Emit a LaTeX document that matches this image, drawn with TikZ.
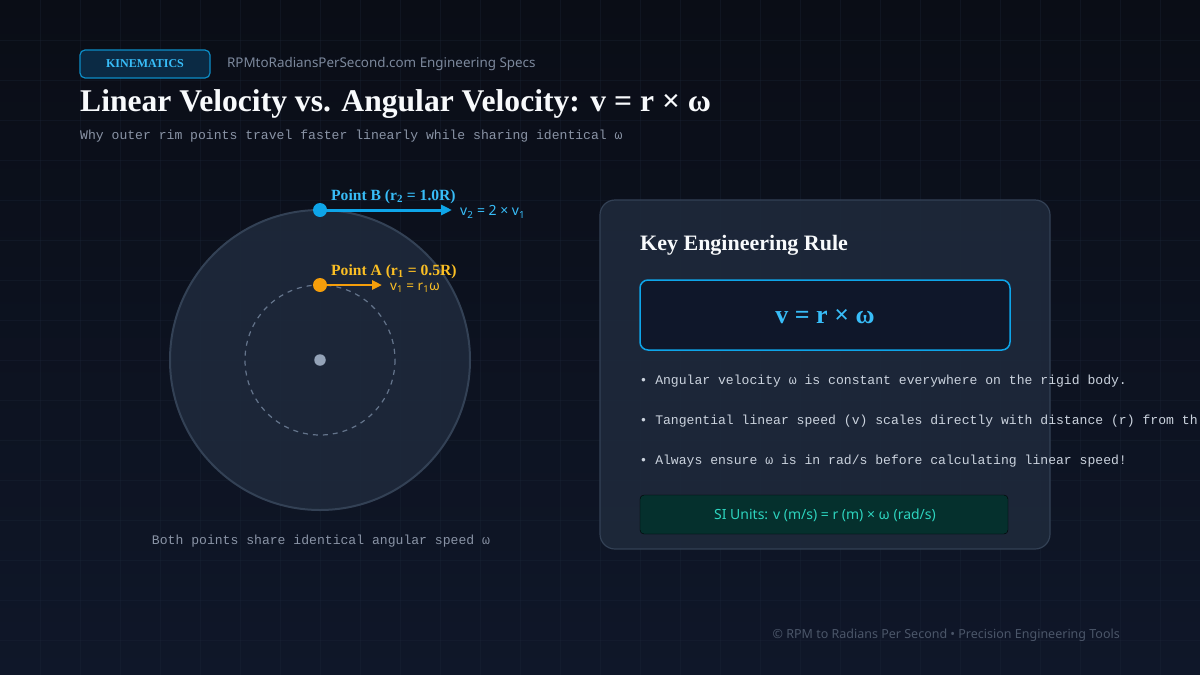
\documentclass[tikz,border=0pt]{standalone}
\usepackage{fontspec}
\setmainfont{Liberation Serif}
\setsansfont{Noto Sans}
\setmonofont{Liberation Mono}
\usetikzlibrary{arrows.meta,positioning,calc}

\definecolor{bgtop}{HTML}{0A0D16}
\definecolor{bgbot}{HTML}{0F1729}
\definecolor{gridc}{HTML}{1E293B}
\definecolor{skyb}{HTML}{0EA5E9}
\definecolor{skyl}{HTML}{38BDF8}
\definecolor{badgebg}{HTML}{0B2A44}
\definecolor{amber}{HTML}{F59E0B}
\definecolor{amberl}{HTML}{FBBF24}
\definecolor{slatepanel}{HTML}{1E293B}
\definecolor{slateedge}{HTML}{334155}
\definecolor{slatedash}{HTML}{64748B}
\definecolor{slatedot}{HTML}{94A3B8}
\definecolor{slatetext}{HTML}{CBD3DE}
\definecolor{subgray}{HTML}{8A94A6}
\definecolor{sitegray}{HTML}{7C889C}
\definecolor{footgray}{HTML}{4B5669}
\definecolor{formulabg}{HTML}{0F172A}
\definecolor{tealbg}{HTML}{05302D}
\definecolor{teall}{HTML}{2DD4BF}
\definecolor{titlewhite}{HTML}{F8FAFC}

\begin{document}
\begin{tikzpicture}[x=1pt,y=-1pt,
		gridline/.style={draw=gridc, line width=0.6pt, opacity=0.3},
		badge node/.style={rectangle, rounded corners=5pt, draw=skyb!85!black, line width=1.2pt, fill=badgebg, minimum width=130pt, minimum height=28pt, font=\bfseries\fontsize{12}{14}\selectfont, text=skyl},
		mono text/.style={font=\ttfamily\fontsize{13.1}{15}\selectfont},
		point node/.style={circle, inner sep=0pt, minimum size=14pt},
		vec line/.style={line width=3pt, -{Triangle[length=11pt, width=10pt]}, shorten <=-2pt},
		panel/.style={rounded corners=15pt, fill=slatepanel, fill opacity=0.9, draw=slateedge, line width=1.2pt},
		bullet node/.style={mono text, text=slatetext, anchor=west}]

	% background and grid
	\shade[top color=bgtop, bottom color=bgbot] (0,0) rectangle (1200,675);
	\useasboundingbox (0,0) rectangle (1200,675);
	\clip (0,0) rectangle (1200,675);
	\foreach \gx in {40,80,...,1160}
		\draw[gridline] (\gx,0) -- (\gx,675);
	\foreach \gy in {40,80,...,640}
		\draw[gridline] (0,\gy) -- (1200,\gy);

	% header
	\node[badge node] (badge) at (145,64) {KINEMATICS};
	\node[anchor=west, font=\sffamily\fontsize{13.4}{16}\selectfont, text=sitegray] (site) [right=13pt of badge] {RPMtoRadiansPerSecond.com Engineering Specs};
	\node[anchor=base west, inner sep=0pt, font=\bfseries\fontsize{31.6}{36}\selectfont, text=titlewhite] (title) at (80,111) {Linear Velocity vs. Angular Velocity: v = r × ω};
	\node[anchor=base west, inner sep=0pt, mono text, text=subgray] (subtitle) at (80,139) {Why outer rim points travel faster linearly while sharing identical ω};

	% wheel
	\draw[fill=slatepanel, fill opacity=0.9, draw=slateedge, line width=2pt] (320,360) circle (150);
	\draw[slatedash, line width=1.2pt, dash pattern=on 5pt off 5pt] (320,360) circle (75);
	\node[circle, fill=slatedot, inner sep=0pt, minimum size=11.5pt] (hub) at (320,360) {};

	\coordinate (tipB) at (452,210);
	\coordinate (tipA) at (382,285);
	\draw[vec line, skyb] (320,210) -- (tipB);
	\draw[vec line, amber, line width=2.5pt, -{Triangle[length=10pt, width=9pt]}] (320,285) -- (tipA);
	\node[point node, fill=skyb] (ptB) at (320,210) {};
	\node[point node, fill=amber] (ptA) at (320,285) {};

	\node[anchor=base west, inner sep=0pt, font=\bfseries\fontsize{15.6}{17}\selectfont, text=skyl] (labB) at (331,200) {Point B (r\textsubscript{2} = 1.0R)};
	\node[anchor=base west, inner sep=0pt, font=\bfseries\fontsize{15.6}{17}\selectfont, text=amberl] (labA) at (331,275) {Point A (r\textsubscript{1} = 0.5R)};
	\node[anchor=west, inner sep=0pt, font=\sffamily\fontsize{14}{16}\selectfont, text=skyl] (velB) at ($(tipB)+(8,2)$) {v\textsubscript{2} = 2 × v\textsubscript{1}};
	\node[anchor=west, inner sep=0pt, font=\sffamily\fontsize{13.5}{15}\selectfont, text=amberl] (velA) at ($(tipA)+(8,2.5)$) {v\textsubscript{1} = r\textsubscript{1}ω};

	\node[mono text, text=subgray] (caption) at (321,541) {Both points share identical angular speed ω};

	% rule panel
	\draw[panel] (600,200) rectangle (1050,549);
	\node[anchor=base west, inner sep=0pt, font=\bfseries\fontsize{22}{26}\selectfont, text=titlewhite] (ruletitle) at (640,250) {Key Engineering Rule};
	\draw[rounded corners=8pt, fill=formulabg, draw=skyb, line width=1.5pt] (640,280) rectangle (1010,350);
	\node[font=\bfseries\fontsize{26}{30}\selectfont, text=skyl] (formula) at (825,317) {v = r × ω};

	\node[bullet node] (b1) at (636,381) {• Angular velocity ω is constant everywhere on the rigid body.};
	\node[bullet node] (b2) at (636,421) {• Tangential linear speed (v) scales directly with distance (r) from th};
	\node[bullet node] (b3) at (636,461) {• Always ensure ω is in rad/s before calculating linear speed!};

	\draw[rounded corners=4pt, fill=tealbg] (640,495) rectangle (1008,534);
	\node[font=\sffamily\fontsize{14}{16}\selectfont, text=teall] (units) at (825,515) {SI Units: v (m/s) = r (m) × ω (rad/s)};

	% footer
	\node[anchor=east, inner sep=0pt, font=\sffamily\fontsize{12.5}{14}\selectfont, text=footgray] (footer) at (1120,635) {© RPM to Radians Per Second • Precision Engineering Tools};
\end{tikzpicture}
\end{document}
